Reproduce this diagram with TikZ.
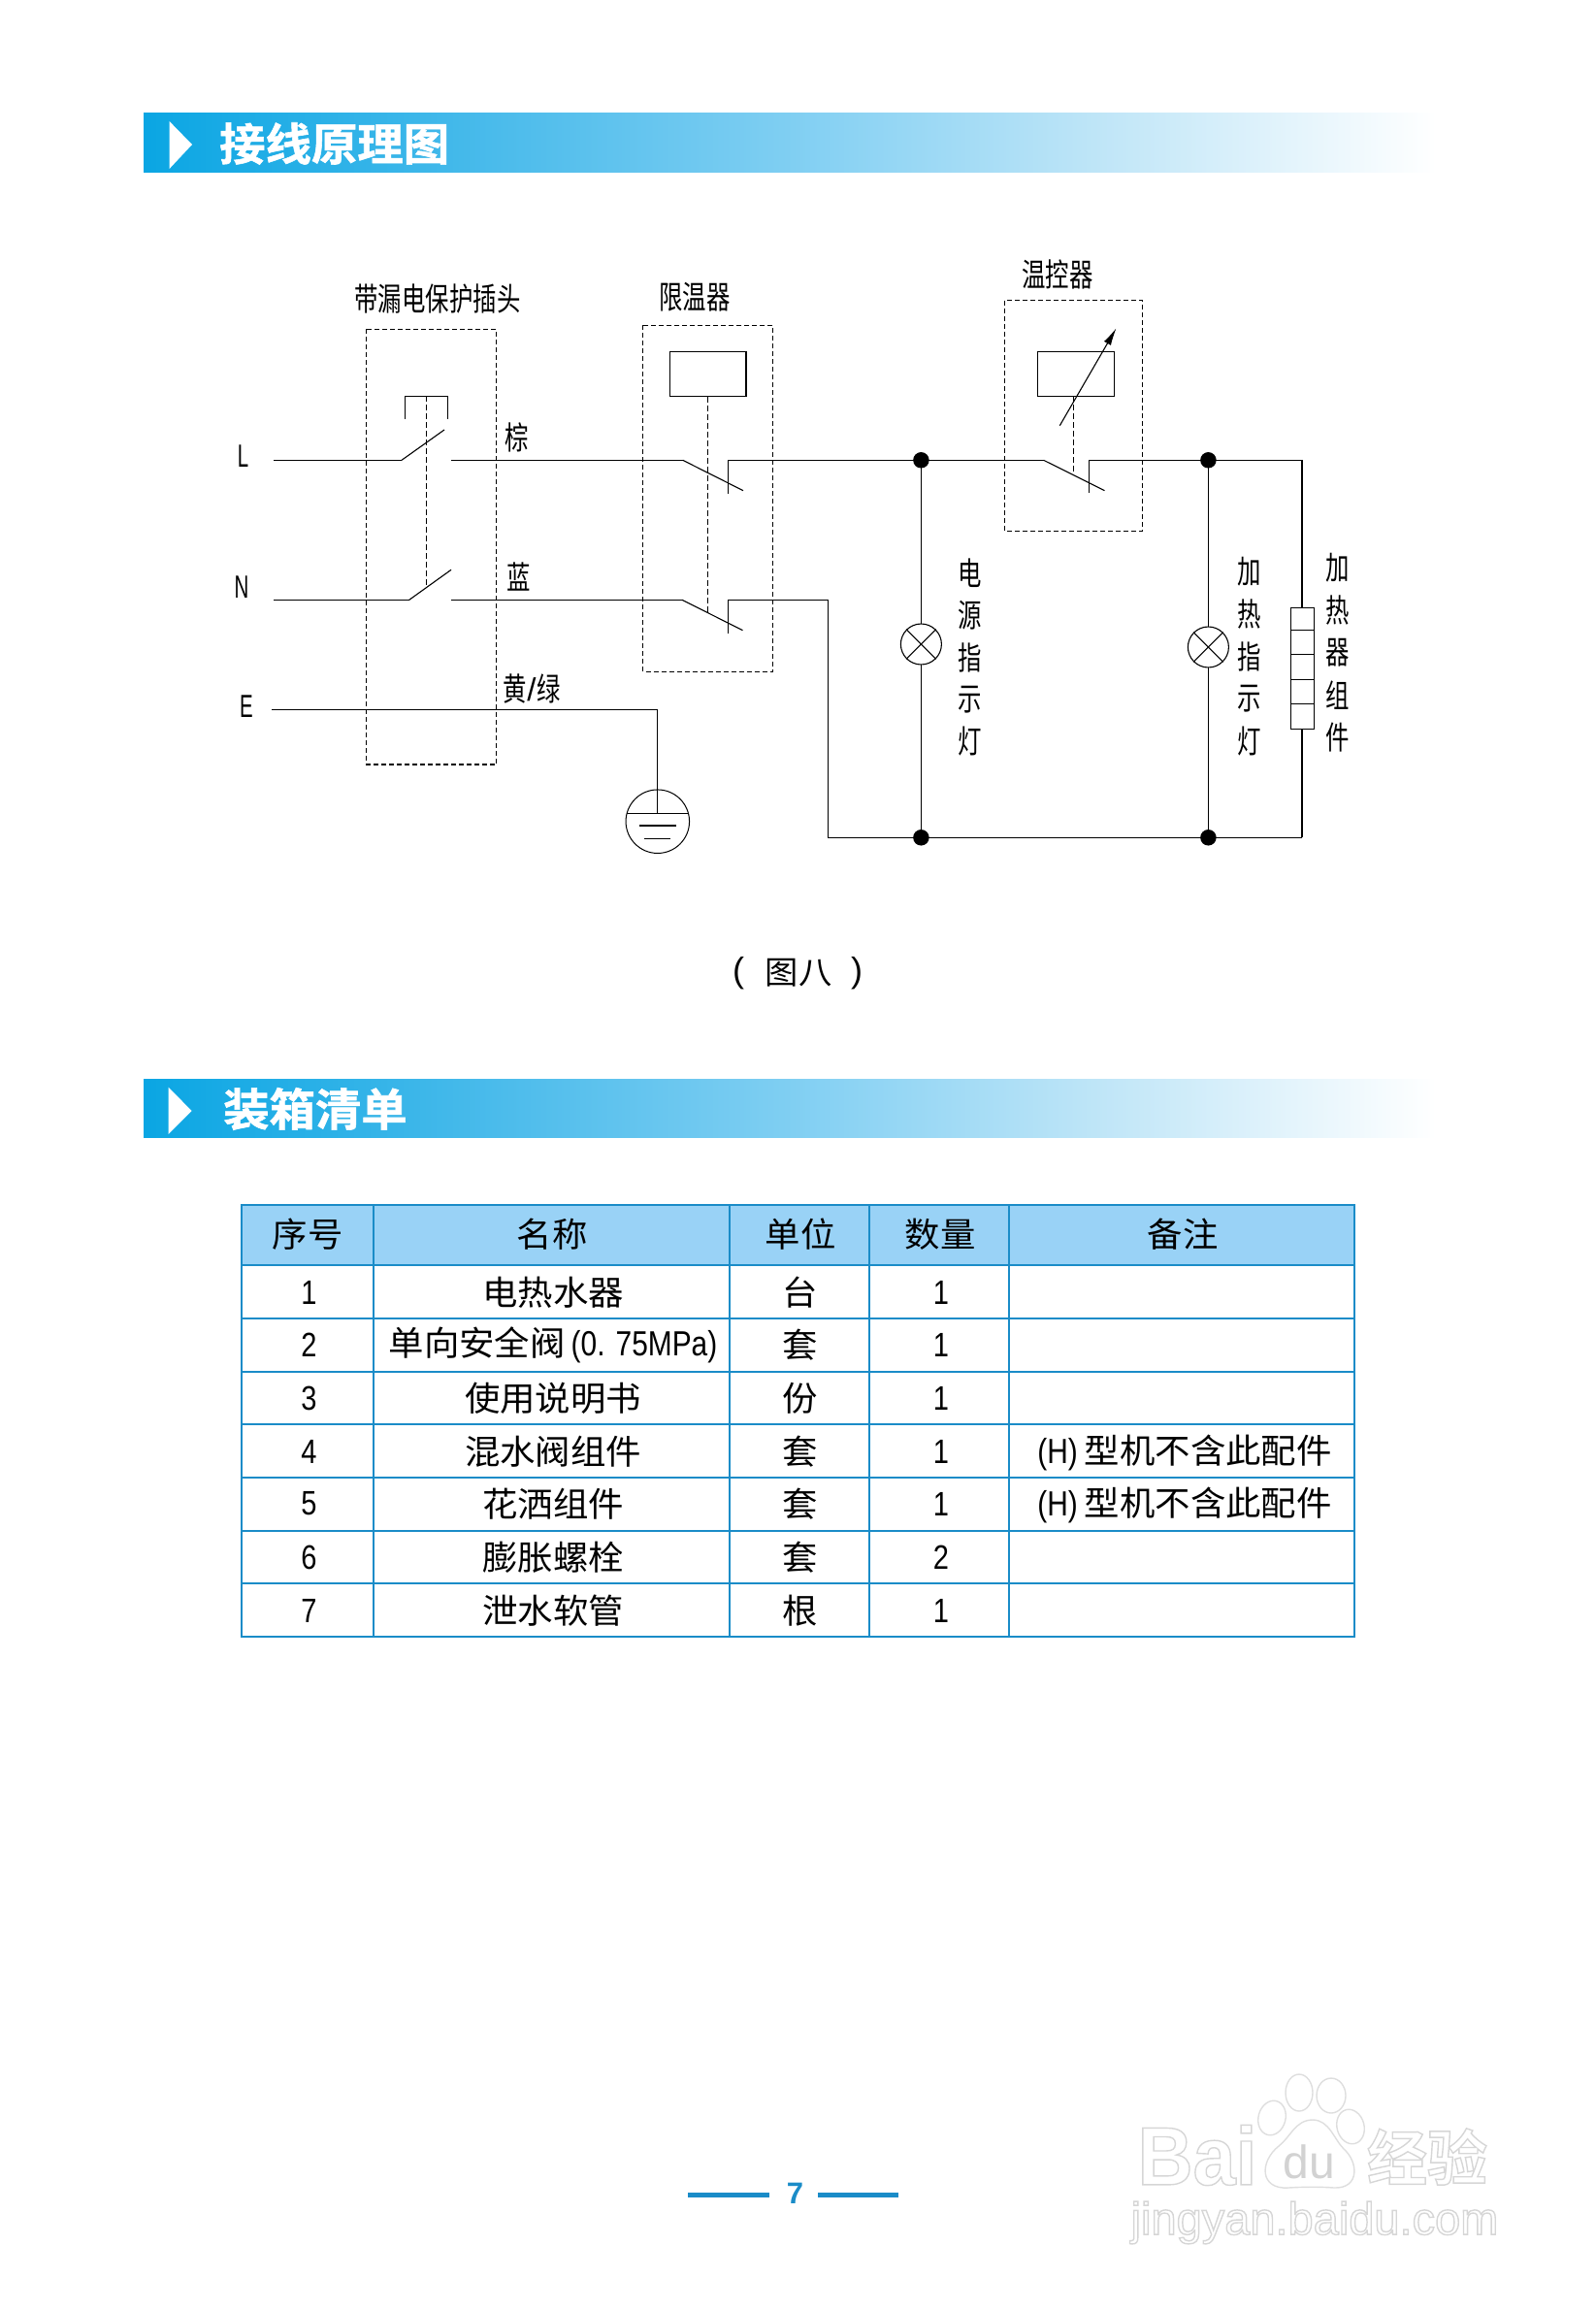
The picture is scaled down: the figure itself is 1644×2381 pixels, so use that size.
\documentclass[tikz,border=0pt]{standalone}
\usepackage{fontspec}
\usetikzlibrary{arrows.meta}
\newfontfamily\cjkn[FakeStretch=0.74]{Noto Sans CJK SC}
\newfontfamily\cjkt[FakeStretch=1.04]{Noto Sans CJK SC}
\newfontfamily\cjkb[FakeStretch=1.03,FakeBold=1.2]{Noto Sans CJK SC Bold}
\newfontfamily\cjkw{Noto Sans CJK SC Bold}
\newfontfamily\ltn[FakeStretch=0.62]{Liberation Sans}
\newfontfamily\ltm[FakeStretch=0.83]{Liberation Sans}
\newfontfamily\ltr{Liberation Sans}
\newfontfamily\ltb{Liberation Sans Bold}
\newfontfamily\ltbn[FakeStretch=0.93]{Liberation Sans Bold}
\definecolor{tblue}{HTML}{1A8CC8}
\definecolor{hfill}{HTML}{99D2F6}
\definecolor{wmd}{HTML}{D2D2D2}
\definecolor{wme}{HTML}{DEDEDE}
\pgfdeclarehorizontalshading{bannershade}{100bp}{
 rgb(0bp)=(0.04,0.65,0.89);
 rgb(25bp)=(0.04,0.65,0.89);
 rgb(38bp)=(0.28,0.73,0.92);
 rgb(50bp)=(0.50,0.81,0.95);
 rgb(62bp)=(0.75,0.90,0.97);
 rgb(75bp)=(1,1,1);
 rgb(100bp)=(1,1,1)}
\newcommand{\hollow}[1]{\special{pdf:code 2 Tr 1.4 w 0.84 G}#1\special{pdf:code 0 Tr 1 w}}
\tikzset{
 wire/.style={line width=1.4pt,black},
 thin wire/.style={line width=1.1pt,black},
 dbox/.style={line width=1.2pt,black,dash pattern=on 5pt off 3pt},
 dlink/.style={line width=1pt,black,dash pattern=on 6pt off 3pt},
 jdot/.style={circle,fill=black,inner sep=0pt,minimum size=16.5pt},
 lab/.style={inner sep=0pt,font=\cjkn\fontsize{33}{33}\selectfont},
 vlab/.style={inner sep=0pt,font=\cjkn\fontsize{33}{33}\selectfont},
 letter/.style={inner sep=0pt,font=\ltn\fontsize{33}{33}\selectfont},
 tcell/.style={inner sep=0pt,font=\cjkt\fontsize{35}{35}\selectfont},
 tnum/.style={inner sep=0pt,font=\ltm\fontsize{35}{35}\selectfont},
 title/.style={inner sep=0pt,anchor=west,white,font=\cjkb\fontsize{46}{46}\selectfont},
 tline/.style={line width=2pt,tblue},
 pagerule/.style={line width=4.5pt,tblue},
 wmk/.style={inner sep=0pt,white},
 wshape/.style={draw=wme,line width=1.4pt,fill=white},
}
\begin{document}
\begin{tikzpicture}[x=1pt,y=-1pt]
\useasboundingbox (0,0) rectangle (1644,2381);
% banners
\shade[shading=bannershade] (148,117) rectangle (1480,178);
\fill[white] (174.6,125)--(198,149)--(174.6,174)--cycle;
\node[title] (t1) at (226,148) {接线原理图};
\shade[shading=bannershade] (148,1112.3) rectangle (1480,1172.7);
\fill[white] (173.7,1120.7)--(197.6,1145)--(173.7,1169)--cycle;
\node[title] (t2) at (230,1143) {装箱清单};
% dashed boxes
\draw[dbox] (377.7,339.3) rectangle (511.6,788);
\draw[dbox] (662.6,335.3) rectangle (796.5,692.3);
\draw[dbox] (1035.7,309.7) rectangle (1177.6,547.3);
% labels
\node[lab] (lb1) at (451,307.5) {带漏电保护插头};
\node[lab] (lb2) at (716,306.5) {限温器};
\node[lab] (lb3) at (1090,282.5) {温控器};
\node[lab] (c1) at (533,450.5) {棕};
\node[lab] (c2) at (535,594.7) {蓝};
\node[lab] (c3) at (548,710) {黄\kern1pt{\ltr\fontsize{33}{33}\selectfont/}\kern1pt绿};
\node[letter] (L) at (250.5,470) {L};
\node[letter] (N) at (249,605) {N};
\node[letter] (E) at (254,728) {E};
% named points
\coordinate (La) at (282,474.3); \coordinate (Lb) at (414,474.3); \coordinate (Lc) at (458,443);
\coordinate (Ld) at (465,474.3); \coordinate (Le) at (703.7,474.3); \coordinate (Lf) at (766,505.7);
\coordinate (Lg) at (750.5,508.7); \coordinate (Lh) at (750.5,474.3);
\coordinate (Ti) at (1075.6,474.3); \coordinate (Tj) at (1138.5,505.7);
\coordinate (Tk) at (1122.3,508.3); \coordinate (Tl) at (1122.3,474.3);
\coordinate (Tm) at (1342,474.3);
\coordinate (Na) at (282,618.3); \coordinate (Nb) at (421.8,618.3); \coordinate (Nc) at (465,587.3);
\coordinate (Nd) at (465,618.3); \coordinate (Ne) at (703,618.3); \coordinate (Nf) at (765.5,649.7);
\coordinate (Ng) at (750.4,652.7); \coordinate (Nh) at (750.4,618.3);
\coordinate (Ni) at (853.5,618.3); \coordinate (Nj) at (853.5,863.3); \coordinate (Nk) at (1342,863.3);
\coordinate (Ea) at (280,731.3); \coordinate (Eb) at (677.6,731.3); \coordinate (Ec) at (677.6,838.3);
% junctions
\node[jdot] (J1) at (949.4,474.3) {};
\node[jdot] (J2) at (1245.4,474.3) {};
\node[jdot] (J3) at (949.4,863.3) {};
\node[jdot] (J4) at (1245.4,863.3) {};
% wires
\draw[wire] (La)--(Lb); \draw[thin wire] (Lb)--(Lc);
\draw[wire] (Ld)--(Le); \draw[thin wire] (Le)--(Lf);
\draw[wire] (Lg)--(Lh)--(J1.center)--(Ti); \draw[thin wire] (Ti)--(Tj);
\draw[wire] (Tk)--(Tl)--(J2.center)--(Tm)--(Nk);
\draw[wire] (Na)--(Nb); \draw[thin wire] (Nb)--(Nc);
\draw[wire] (Nd)--(Ne); \draw[thin wire] (Ne)--(Nf);
\draw[wire] (Ng)--(Nh)--(Ni)--(Nj)--(Nk);
\draw[wire] (Ea)--(Eb)--(Ec);
\draw[wire] (J1.center)--(J3.center);
\draw[wire] (J2.center)--(J4.center);
% RCD
\coordinate (Ba) at (417.5,431.7); \coordinate (Bb) at (417.5,408.3);
\coordinate (Bc) at (461.7,408.3); \coordinate (Bd) at (461.7,431.7);
\draw[thin wire] (Ba)--(Bb)--(Bc)--(Bd);
\coordinate (Da) at (439.5,408.3); \coordinate (Db) at (439.5,605);
\draw[dlink] (Da)--(Db);
% limiter
\node[draw,thin wire,minimum width=78.4pt,minimum height=46pt,inner sep=0pt] (R1) at (729.8,385.3) {};
\coordinate (Dd) at (729.8,631.7);
\draw[dlink] (R1.south)--(Dd);
% thermostat
\node[draw,thin wire,minimum width=78.3pt,minimum height=46pt,inner sep=0pt] (R2) at (1109,385.3) {};
\coordinate (Aa) at (1092.3,438.7); \coordinate (Ab) at (1150.5,338.3);
\draw[thin wire,-{Latex[length=18pt,width=8pt]}] (Aa)--(Ab);
\coordinate (De) at (1106.9,408.3); \coordinate (Df) at (1106.9,488.3);
\draw[dlink] (De)--(Df);
% lamps
\node[draw,circle,thin wire,fill=white,minimum size=42pt,inner sep=0pt] (P1) at (949.4,664) {};
\node[draw,circle,thin wire,fill=white,minimum size=42pt,inner sep=0pt] (P2) at (1245.4,667) {};
\draw[thin wire] (P1.north west)--(P1.south east) (P1.north east)--(P1.south west);
\draw[thin wire] (P2.north west)--(P2.south east) (P2.north east)--(P2.south west);
% heater
\node[draw,thin wire,fill=white,minimum width=24.4pt,minimum height=125pt,inner sep=0pt] (H) at (1342.5,688.8) {};
\foreach \yy/\nn in {649.3/a,674.3/b,700.3/c,725.3/d}{
 \coordinate (H\nn l) at (1330.3,\yy); \coordinate (H\nn r) at (1354.7,\yy);
 \draw[thin wire] (H\nn l)--(H\nn r);}
% ground
\node[draw,circle,line width=1pt,minimum size=65.5pt,inner sep=0pt] (G) at (677.8,846.7) {};
\coordinate (Ga) at (646.3,838.3); \coordinate (Gb) at (709.5,838.3);
\coordinate (Gc) at (658.8,851); \coordinate (Gd) at (696.8,851);
\coordinate (Ge) at (664,864.3); \coordinate (Gf) at (691,864.3);
\draw[thin wire] (Ga)--(Gb) (Gc)--(Gd) (Ge)--(Gf);
% vertical labels
\foreach \cc/\yy/\nn in {电/590.5/a,源/634/b,指/677.5/c,示/721/d,灯/764.5/e}
 \node[vlab] (va\nn) at (999.5,\yy) {\cc};
\foreach \cc/\yy/\nn in {加/589.5/a,热/633/b,指/677/c,示/720.5/d,灯/764/e}
 \node[vlab] (vb\nn) at (1288,\yy) {\cc};
\foreach \cc/\yy/\nn in {加/585/a,热/629/b,器/673/c,组/717/d,件/760.5/e}
 \node[vlab] (vc\nn) at (1379,\yy) {\cc};
% caption
\node[inner sep=0pt,font=\ltr\fontsize{36}{36}\selectfont] (cap1) at (761,1003) {(};
\node[tcell,font=\cjkt\fontsize{33}{33}\selectfont] (cap2) at (823,1003) {图八};
\node[inner sep=0pt,font=\ltr\fontsize{36}{36}\selectfont] (cap3) at (883,1003) {)};
% table
\fill[hfill] (249,1242) rectangle (1395,1303.7);
\foreach \yy/\nn in {1242/a,1303.7/b,1358.7/c,1413.7/d,1468.3/e,1523/f,1577.6/g,1632.2/h,1687/i}{
 \coordinate (r\nn l) at (249,\yy); \coordinate (r\nn r) at (1395.5,\yy);
 \draw[tline] (r\nn l)--(r\nn r);}
\foreach \xx/\nn in {249/a,385/b,752/c,896/d,1040/e,1395.5/f}{
 \coordinate (c\nn t) at (\xx,1242); \coordinate (c\nn b) at (\xx,1687);
 \draw[tline,line cap=rect] (c\nn t)--(c\nn b);}
\foreach \xx/\tt/\nn in {317/序号/a,569/名称/b,825/单位/c,969/数量/d,1219/备注/e}
 \node[tcell] (h\nn) at (\xx,1272) {\tt};
\foreach \yy/\nb/\nm/\un/\qt/\nn in {
 1332/1/电热水器/台/1/a,
 1386/2/{单向安全阀\kern6pt{\ltm\fontsize{36}{36}\selectfont(0. 75MPa)}}/套/1/b,
 1441/3/使用说明书/份/1/c,
 1496/4/混水阀组件/套/1/d,
 1550/5/花洒组件/套/1/e,
 1605/6/膨胀螺栓/套/2/f,
 1660/7/泄水软管/根/1/g}{
 \node[tnum] (n\nn) at (318.5,\yy) {\nb};
 \node[tcell] (m\nn) at (570,\yy) {\nm};
 \node[tcell] (u\nn) at (825,\yy) {\un};
 \node[tnum] (q\nn) at (970,\yy) {\qt};
}
\node[tcell] (x1) at (1221,1497) {{\ltm\fontsize{36}{36}\selectfont(H)}\kern7pt型机不含此配件};
\node[tcell] (x2) at (1221,1551) {{\ltm\fontsize{36}{36}\selectfont(H)}\kern7pt型机不含此配件};
% page number
\node[inner sep=0pt,tblue,font=\ltb\fontsize{31}{31}\selectfont] (pg) at (819.5,2261) {7};
\coordinate (pa) at (709,2262.7); \coordinate (pb) at (793,2262.7);
\coordinate (pc) at (843,2262.7); \coordinate (pd) at (926,2262.7);
\draw[pagerule] (pa)--(pb); \draw[pagerule] (pc)--(pd);
% watermark
\draw[wshape,rotate around={-15:(1311,2183)}] (1311,2183) ellipse [x radius=14,y radius=18];
\draw[wshape] (1339,2157) ellipse [x radius=14,y radius=19];
\draw[wshape] (1372,2160) ellipse [x radius=15,y radius=18];
\draw[wshape,rotate around={15:(1392,2192)}] (1392,2192) ellipse [x radius=14,y radius=18];
\draw[wshape] (1353,2185) .. controls (1370,2185) and (1375,2205) .. (1385,2215)
 .. controls (1400,2228) and (1402,2256) .. (1375,2255)
 .. controls (1362,2254) and (1345,2254) .. (1328,2255)
 .. controls (1298,2257) and (1298,2228) .. (1318,2212)
 .. controls (1330,2203) and (1335,2185) .. (1353,2185) -- cycle;
\node[wmk,font=\ltbn\fontsize{85}{85}\selectfont] (w1) at (1234,2221.5) {\hollow{Bai}};
\node[inner sep=0pt,wmd,font=\ltr\fontsize{48}{48}\selectfont] (w2) at (1349,2228) {du};
\node[wmk,font=\cjkw\fontsize{62}{62}\selectfont] (w3) at (1471,2223) {\hollow{经验}};
\node[wmk,font=\ltr\fontsize{47}{47}\selectfont] (w4) at (1355,2291) {\hollow{jingyan.baidu.com}};
\end{tikzpicture}
\end{document}
